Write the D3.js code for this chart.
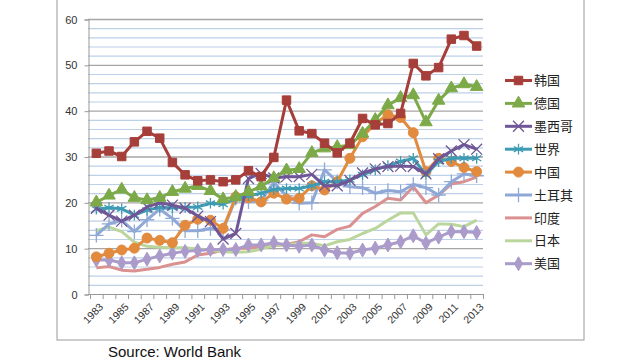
<!DOCTYPE html>
<html>
  <head>
    <meta charset="utf-8">
    <script src="https://d3js.org/d3.v7.min.js"></script>
    <style>
      body { margin: 0; background: #fff; }
      svg { display: block; }
      .ylab { font: 11px "Liberation Sans", Arial, sans-serif; fill: #333; }
      .xlab { font: 10.5px "Liberation Sans", Arial, sans-serif; fill: #333; }
      .legtext { font: 13px "Noto Sans CJK SC", sans-serif; fill: #222; }
      .source { font: 15px "Liberation Sans", Arial, sans-serif; fill: #111; }
    </style>
  </head>
  <body>
    <svg width="640" height="360"></svg>
    <script>
      var years = d3.range(1983, 2014);

      var korea   = [30.7,31.2,30.0,33.2,35.5,34.0,28.7,26.0,24.7,24.9,24.5,24.9,26.9,25.6,29.8,42.3,35.6,35.0,32.9,30.8,32.9,38.3,36.9,37.2,39.4,50.3,47.6,49.4,55.6,56.4,54.1];
      var germany = [20.0,21.5,22.8,21.0,20.5,21.0,22.3,23.0,23.6,22.5,20.7,21.2,22.3,23.5,25.3,27.0,27.3,30.8,31.8,32.1,32.5,35.0,38.0,41.2,42.8,43.4,37.5,42.2,44.9,45.8,45.2];
      var mexico  = [18.7,17.2,15.9,17.2,19.0,19.9,19.4,18.7,17.0,15.8,12.0,13.2,25.2,26.3,25.3,25.6,25.6,26.1,23.6,23.6,24.8,26.4,27.3,27.8,27.9,27.8,26.2,29.5,31.2,32.6,31.6];
      var world   = [18.5,18.8,18.6,17.2,18.3,18.9,18.8,18.9,19.0,19.8,19.6,20.8,21.4,22.0,22.8,23.0,23.0,23.6,24.5,24.5,24.9,26.0,27.1,28.0,28.9,29.6,26.0,28.9,29.6,29.6,29.6];
      var china   = [8.1,8.9,9.6,10.0,12.2,11.7,11.2,15.0,16.3,16.1,14.3,21.2,21.0,20.1,22.0,20.7,20.9,23.6,22.7,24.5,29.6,34.3,37.2,39.1,38.5,35.2,26.7,29.6,28.9,27.6,26.7];
      var turkey  = [12.8,15.3,16.1,13.6,16.2,18.5,16.5,13.8,13.8,14.3,14.0,20.9,20.1,20.5,24.3,21.4,19.8,19.9,27.1,24.5,23.4,23.2,22.0,22.6,22.3,23.9,23.2,21.6,24.5,26.2,25.8];
      var india   = [5.7,6.0,5.2,5.0,5.4,5.8,6.5,7.0,8.5,8.9,9.6,10.0,10.0,10.3,10.5,10.8,11.4,12.9,12.5,14.1,14.8,17.6,19.1,20.9,20.5,23.4,19.9,21.6,24.0,24.5,25.5];
      var japan   = [13.8,14.6,13.6,11.3,10.4,10.2,10.1,10.1,9.8,9.6,9.2,9.1,9.2,9.8,10.6,10.7,11.1,11.1,10.5,11.4,11.9,13.2,14.3,16.1,17.7,17.7,12.9,15.3,15.2,14.7,16.1];
      var usa     = [7.4,7.4,6.8,6.8,7.6,8.3,8.9,9.3,9.5,9.7,9.7,9.7,10.7,10.7,11.2,10.7,10.4,10.7,9.6,9.0,8.9,9.6,10.0,10.7,11.4,12.7,11.1,12.4,13.6,13.6,13.4];

      var names  = ["韩国","德国","墨西哥","世界","中国","土耳其","印度","日本","美国"];
      var colors = ["#A63E3A","#7DAA48","#6F5696","#3E9BB4","#E28A3D","#8FA8D6","#DA918F","#BBD69C","#AB9BCB"];
      var yTicks = [0,10,20,30,40,50,60];

      var seriesData = [korea, germany, mexico, world, china, turkey, india, japan, usa];
      var symbols = [
        {type: d3.symbolSquare, size: 72, fill: true},
        {type: d3.symbolTriangle, size: 68, fill: true},
        {type: d3.symbolTimes, size: 80, fill: false},
        {type: d3.symbolAsterisk, size: 80, fill: false},
        {type: d3.symbolCircle, size: 78, fill: true},
        {type: d3.symbolPlus, size: 70, fill: false},
        null,
        null,
        {type: d3.symbolDiamond, size: 56, fill: true}
      ];

      var svg = d3.select("svg");

      // outer frame of the pasted chart
      svg.append("rect")
        .attr("x", 57).attr("y", -2)
        .attr("width", 527).attr("height", 342)
        .attr("fill", "none")
        .attr("stroke", "#9a9a9a")
        .attr("stroke-width", 1);

      var x = d3.scaleBand().domain(years).range([90, 483]).padding(0);
      var y = d3.scaleLinear().domain([0, 60]).range([294, 19]);
      var cx = d => x(d) + x.bandwidth() / 2;

      // gridlines: minor every 2, major every 10
      var minor = d3.range(2, 60, 2).filter(v => v % 10 !== 0);
      svg.append("g").selectAll("line")
        .data(minor).enter().append("line")
          .attr("x1", 88).attr("x2", 483)
          .attr("y1", d => y(d) + 0.5).attr("y2", d => y(d) + 0.5)
          .attr("stroke", "#BCD0E8").attr("stroke-width", 1.2);
      svg.append("g").selectAll("line")
        .data(yTicks.slice(1)).enter().append("line")
          .attr("x1", 88).attr("x2", 483)
          .attr("y1", d => y(d) + 0.5).attr("y2", d => y(d) + 0.5)
          .attr("stroke", "#A8A4A4").attr("stroke-width", 1.4);

      // y axis
      var yAxis = svg.append("g")
        .attr("transform", "translate(88.5,0.5)")
        .call(d3.axisLeft(y).tickValues(yTicks).tickSize(4).tickPadding(7));
      yAxis.select(".domain").attr("stroke", "#999");
      yAxis.selectAll(".tick line").attr("stroke", "#999");
      yAxis.selectAll("text").attr("class", "ylab").attr("fill", null);

      // x axis with ticks between categories
      svg.append("line")
        .attr("x1", 88).attr("x2", 483)
        .attr("y1", 294.5).attr("y2", 294.5)
        .attr("stroke", "#999");
      svg.append("g").selectAll("line")
        .data(years.concat([2014])).enter().append("line")
          .attr("x1", d => (d === 2014 ? 483 : x(d)) + 0.5)
          .attr("x2", d => (d === 2014 ? 483 : x(d)) + 0.5)
          .attr("y1", 294).attr("y2", 299)
          .attr("stroke", "#999");
      svg.append("g").selectAll("text")
        .data(years.filter((d, i) => i % 2 === 0)).enter().append("text")
          .attr("class", "xlab")
          .attr("text-anchor", "end")
          .attr("transform", d => `translate(${cx(d) + 5},${305}) rotate(-45)`)
          .attr("dy", "0.35em")
          .text(d => d);

      // series
      var line = d3.line()
        .x((d, i) => cx(years[i]))
        .y(d => y(d));

      var order = [6, 7, 8, 5, 4, 3, 2, 1, 0];
      order.forEach(function(k) {
        var g = svg.append("g");
        g.append("path")
          .datum(seriesData[k])
          .attr("d", line)
          .attr("fill", "none")
          .attr("stroke", colors[k])
          .attr("stroke-width", 3)
          .attr("stroke-linejoin", "round");
        var s = symbols[k];
        if (s) {
          g.selectAll("path.mk")
            .data(seriesData[k]).enter().append("path")
              .attr("class", "mk")
              .attr("transform", (d, i) => `translate(${cx(years[i])},${y(d)})`)
              .attr("d", d3.symbol().type(s.type).size(s.size))
              .attr("fill", s.fill ? colors[k] : "none")
              .attr("stroke", colors[k])
              .attr("stroke-width", s.fill ? 1 : 1.3);
        }
      });

      // legend
      var leg = svg.append("g").selectAll("g")
        .data(names).enter().append("g")
          .attr("transform", (d, i) => `translate(505,${80.5 + i * 22.9})`);
      leg.append("line")
        .attr("x1", 0).attr("x2", 27)
        .attr("stroke", (d, i) => colors[i])
        .attr("stroke-width", 3);
      leg.each(function(d, i) {
        var s = symbols[i];
        if (!s) return;
        d3.select(this).append("path")
          .attr("transform", "translate(13.5,0)")
          .attr("d", d3.symbol().type(s.type).size(s.size))
          .attr("fill", s.fill ? colors[i] : "none")
          .attr("stroke", colors[i])
          .attr("stroke-width", s.fill ? 1 : 1.3);
      });
      leg.append("text")
        .attr("class", "legtext")
        .attr("x", 29)
        .attr("dy", "0.36em")
        .text(d => d);

      svg.append("text")
        .attr("class", "source")
        .attr("x", 108)
        .attr("y", 357)
        .text("Source: World Bank");
    </script>
  </body>
</html>
